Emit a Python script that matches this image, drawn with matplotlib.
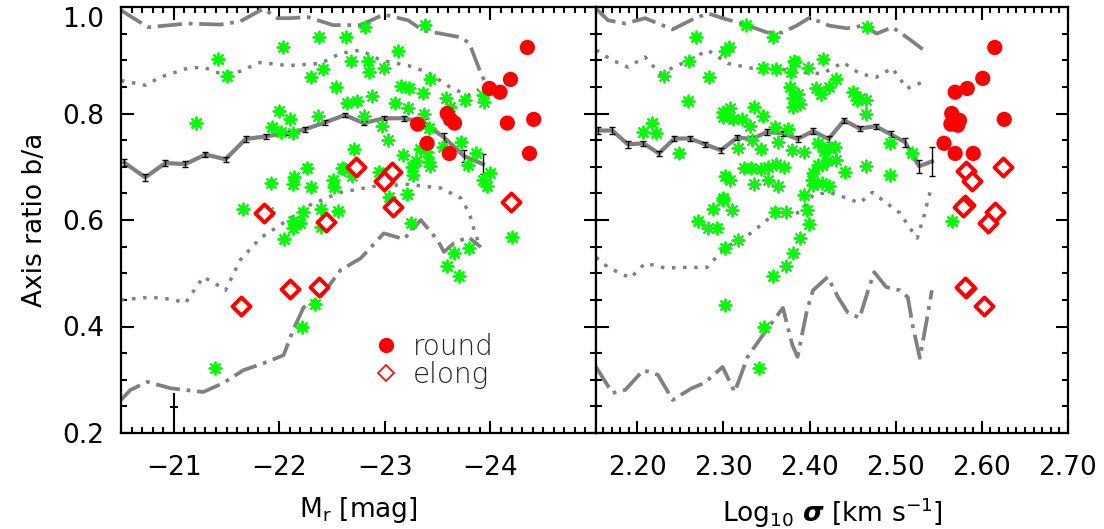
import numpy as np
import matplotlib
matplotlib.use('Agg')
import matplotlib.pyplot as plt
from matplotlib.lines import Line2D
from matplotlib.ticker import MultipleLocator, FormatStrFormatter

plt.rcParams['font.family'] = ['DejaVu Sans']
plt.rcParams['mathtext.fontset'] = 'dejavusans'

# ---------------- left panel: M_r ----------------
mr_med_x = [-20.53, -20.73, -20.92, -21.11, -21.30, -21.49, -21.68, -21.87, -22.06, -22.24,
            -22.43, -22.62, -22.80, -22.99, -23.18, -23.37, -23.56, -23.75, -23.93]
mr_med_y = [0.708, 0.680, 0.707, 0.705, 0.723, 0.714, 0.752, 0.757, 0.763, 0.770,
            0.783, 0.797, 0.782, 0.791, 0.791, 0.783, 0.755, 0.720, 0.705]
mr_med_err = [0.006, 0.006, 0.006, 0.005, 0.005, 0.005, 0.005, 0.004, 0.004, 0.004,
              0.004, 0.004, 0.004, 0.004, 0.005, 0.006, 0.008, 0.012, 0.019]

mr_hi2_x = [-20.5, -20.61, -20.76, -21.13, -21.44, -21.63, -21.85, -21.98, -22.10, -22.27,
            -22.51, -22.77, -22.99, -23.22, -23.36, -23.53, -23.72, -23.80, -23.91, -23.98]
mr_hi2_y = [0.994, 0.980, 0.962, 0.969, 0.967, 0.973, 0.997, 0.979, 0.979, 0.981,
            0.966, 0.966, 0.986, 0.975, 0.956, 0.950, 0.943, 0.932, 0.875, 0.847]

mr_hi1_x = [-20.5, -20.73, -20.87, -21.13, -21.28, -21.44, -21.60, -21.82, -22.08, -22.39,
            -22.58, -22.77, -22.96, -23.22, -23.41, -23.62, -23.79, -23.89]
mr_hi1_y = [0.862, 0.853, 0.868, 0.885, 0.887, 0.875, 0.877, 0.896, 0.890, 0.894,
            0.913, 0.919, 0.900, 0.890, 0.877, 0.849, 0.834, 0.845]

mr_lo1_x = [-20.5, -20.78, -20.99, -21.11, -21.28, -21.39, -21.49, -21.63, -21.82, -22.08,
            -22.29, -22.58, -22.89, -23.22, -23.53, -23.72, -23.80, -23.84, -23.89]
mr_lo1_y = [0.450, 0.455, 0.451, 0.444, 0.493, 0.481, 0.468, 0.525, 0.566, 0.600,
            0.628, 0.652, 0.663, 0.667, 0.660, 0.641, 0.613, 0.585, 0.556]

mr_lo2_x = [-20.5, -20.59, -20.75, -20.97, -21.28, -21.47, -21.66, -21.85, -22.04, -22.13,
            -22.23, -22.39, -22.58, -22.77, -22.99, -23.18, -23.34, -23.50, -23.56, -23.65,
            -23.79, -23.91]
mr_lo2_y = [0.262, 0.281, 0.296, 0.284, 0.277, 0.294, 0.318, 0.331, 0.346, 0.393,
            0.436, 0.455, 0.506, 0.528, 0.575, 0.564, 0.600, 0.562, 0.540, 0.556,
            0.568, 0.549]

mr_green_x = [-22.38, -22.63, -22.03, -21.42, -22.68, -22.41, -22.30, -21.50, -22.54, -22.64,
              -22.74, -22.00, -22.10, -22.37, -21.21, -21.93, -22.02, -22.13, -22.71, -22.26,
              -22.59, -22.69, -22.14, -22.13, -21.92, -22.30, -22.51, -22.52, -21.66, -21.89,
              -22.22, -22.39, -22.56, -22.13, -22.20, -22.13, -22.39, -22.04, -22.34, -22.21,
              -21.39, -23.38, -22.81, -23.12, -22.84, -22.85, -22.99, -23.43, -23.15, -23.23,
              -23.36, -22.88, -23.58, -23.76, -23.93, -23.94, -23.10, -23.22, -23.62, -23.37,
              -22.80, -22.97, -23.42, -23.03, -23.33, -23.55, -23.72, -23.17, -23.40, -23.86,
              -23.29, -23.42, -23.79, -22.61, -23.26, -23.43, -22.94, -23.27, -24.00, -23.93,
              -23.97, -23.04, -23.21, -23.25, -24.20, -23.65, -23.80, -23.59, -23.70]
mr_green_y = [0.943, 0.943, 0.924, 0.902, 0.898, 0.883, 0.868, 0.870, 0.849, 0.819,
              0.823, 0.804, 0.789, 0.795, 0.782, 0.774, 0.765, 0.763, 0.733, 0.697,
              0.697, 0.682, 0.680, 0.667, 0.669, 0.662, 0.675, 0.662, 0.620, 0.615,
              0.615, 0.620, 0.617, 0.598, 0.594, 0.585, 0.586, 0.564, 0.442, 0.399,
              0.322, 0.967, 0.962, 0.917, 0.898, 0.877, 0.885, 0.864, 0.851, 0.847,
              0.838, 0.832, 0.830, 0.825, 0.834, 0.821, 0.819, 0.810, 0.812, 0.800,
              0.795, 0.776, 0.772, 0.750, 0.733, 0.737, 0.746, 0.723, 0.727, 0.725,
              0.710, 0.708, 0.703, 0.695, 0.699, 0.701, 0.690, 0.684, 0.688, 0.675,
              0.663, 0.643, 0.648, 0.594, 0.568, 0.538, 0.547, 0.513, 0.495]

mr_round_x = [-24.35, -24.19, -23.99, -24.09, -23.59, -23.62, -23.66, -23.31, -24.16, -24.41,
              -23.40, -23.61, -24.37]
mr_round_y = [0.924, 0.864, 0.847, 0.840, 0.800, 0.789, 0.782, 0.780, 0.782, 0.789,
              0.744, 0.725, 0.725]

mr_elong_x = [-22.73, -23.07, -22.99, -23.08, -24.19, -21.85, -22.44, -21.64, -22.10, -22.38]
mr_elong_y = [0.699, 0.690, 0.673, 0.624, 0.633, 0.613, 0.596, 0.438, 0.470, 0.474]

# typical error (cross in lower left)
err_x, err_y, err_yerr, err_xerr = -21.0, 0.249, 0.027, 0.04

# ---------------- right panel: log sigma ----------------
sg_med_x = [2.154, 2.171, 2.189, 2.207, 2.225, 2.243, 2.261, 2.279, 2.297, 2.316, 2.333, 2.350,
            2.369, 2.386, 2.404, 2.422, 2.440, 2.458, 2.477, 2.494, 2.511, 2.527, 2.542]
sg_med_y = [0.768, 0.768, 0.742, 0.744, 0.725, 0.753, 0.753, 0.742, 0.731, 0.755, 0.752, 0.765,
            0.763, 0.752, 0.767, 0.752, 0.787, 0.772, 0.776, 0.761, 0.746, 0.701, 0.710]
sg_med_err = [0.006, 0.006, 0.006, 0.005, 0.005, 0.005, 0.005, 0.005, 0.005, 0.005, 0.005, 0.005,
              0.005, 0.005, 0.005, 0.005, 0.005, 0.005, 0.005, 0.006, 0.008, 0.012, 0.027]

sg_hi2_x = [2.152, 2.166, 2.186, 2.209, 2.241, 2.267, 2.282, 2.299, 2.325, 2.351, 2.368, 2.385,
            2.400, 2.423, 2.443, 2.462, 2.478, 2.496, 2.513, 2.536]
sg_hi2_y = [0.997, 0.975, 0.969, 0.979, 0.958, 0.979, 0.988, 0.979, 0.967, 0.952, 0.952, 0.965,
            0.980, 0.965, 0.960, 0.965, 0.950, 0.962, 0.943, 0.915]

sg_hi1_x = [2.152, 2.171, 2.189, 2.209, 2.226, 2.247, 2.267, 2.282, 2.305, 2.333, 2.360, 2.389,
            2.415, 2.439, 2.458, 2.477, 2.496, 2.513, 2.536]
sg_hi1_y = [0.919, 0.900, 0.887, 0.906, 0.875, 0.890, 0.906, 0.919, 0.894, 0.885, 0.885, 0.877,
            0.875, 0.896, 0.875, 0.868, 0.885, 0.847, 0.862]

sg_lo1_x = [2.152, 2.166, 2.192, 2.209, 2.232, 2.255, 2.281, 2.302, 2.321, 2.340, 2.360, 2.377,
            2.389, 2.404, 2.423, 2.443, 2.458, 2.473, 2.489, 2.505, 2.516, 2.525, 2.533, 2.541]
sg_lo1_y = [0.530, 0.511, 0.491, 0.519, 0.510, 0.511, 0.511, 0.549, 0.562, 0.586, 0.613, 0.609,
            0.615, 0.647, 0.652, 0.641, 0.632, 0.652, 0.632, 0.613, 0.586, 0.566, 0.609, 0.660]

sg_lo2_x = [2.152, 2.171, 2.186, 2.207, 2.224, 2.241, 2.263, 2.278, 2.299, 2.313, 2.328, 2.344,
            2.369, 2.380, 2.386, 2.397, 2.404, 2.421, 2.433, 2.444, 2.458, 2.467, 2.475, 2.489,
            2.505, 2.514, 2.520, 2.528, 2.536, 2.542]
sg_lo2_y = [0.324, 0.275, 0.281, 0.318, 0.309, 0.262, 0.284, 0.294, 0.324, 0.277, 0.343, 0.380,
            0.435, 0.365, 0.343, 0.431, 0.468, 0.493, 0.455, 0.427, 0.416, 0.463, 0.502, 0.474,
            0.468, 0.455, 0.399, 0.341, 0.412, 0.468]

sg_green_x = [2.326, 2.268, 2.358, 2.306, 2.302, 2.260, 2.382, 2.346, 2.361, 2.378, 2.231, 2.283,
              2.377, 2.381, 2.259, 2.381, 2.307, 2.299, 2.335, 2.299, 2.346, 2.217, 2.311, 2.321,
              2.331, 2.207, 2.222, 2.375, 2.360, 2.333, 2.363, 2.343, 2.317, 2.379, 2.248, 2.324,
              2.332, 2.343, 2.352, 2.361, 2.370, 2.302, 2.307, 2.352, 2.335, 2.363, 2.300, 2.288,
              2.310, 2.360, 2.373, 2.270, 2.299, 2.282, 2.292, 2.302, 2.317, 2.381, 2.357, 2.373,
              2.302, 2.347, 2.341, 2.467, 2.383, 2.415, 2.398, 2.431, 2.408, 2.423, 2.387, 2.413,
              2.450, 2.458, 2.466, 2.389, 2.455, 2.466, 2.410, 2.493, 2.394, 2.417, 2.423, 2.430,
              2.519, 2.420, 2.431, 2.410, 2.414, 2.466, 2.441, 2.404, 2.493, 2.403, 2.404, 2.414,
              2.423, 2.394, 2.397, 2.399, 2.389, 2.565]
sg_green_y = [0.967, 0.943, 0.943, 0.924, 0.917, 0.898, 0.898, 0.885, 0.883, 0.877, 0.870, 0.868,
              0.849, 0.830, 0.823, 0.813, 0.810, 0.802, 0.812, 0.793, 0.795, 0.782, 0.789, 0.789,
              0.776, 0.765, 0.763, 0.770, 0.774, 0.750, 0.746, 0.733, 0.735, 0.731, 0.725, 0.697,
              0.697, 0.695, 0.699, 0.705, 0.699, 0.682, 0.675, 0.675, 0.667, 0.663, 0.641, 0.620,
              0.618, 0.615, 0.615, 0.598, 0.637, 0.585, 0.585, 0.547, 0.562, 0.538, 0.495, 0.513,
              0.440, 0.399, 0.322, 0.962, 0.896, 0.902, 0.885, 0.864, 0.847, 0.849, 0.836, 0.836,
              0.840, 0.830, 0.825, 0.817, 0.825, 0.800, 0.744, 0.744, 0.727, 0.729, 0.735, 0.737,
              0.725, 0.710, 0.712, 0.703, 0.703, 0.701, 0.690, 0.688, 0.684, 0.675, 0.665, 0.669,
              0.663, 0.647, 0.618, 0.592, 0.566, 0.598]

sg_round_x = [2.615, 2.601, 2.583, 2.569, 2.626, 2.565, 2.574, 2.564, 2.572, 2.556, 2.569, 2.590]
sg_round_y = [0.924, 0.866, 0.847, 0.840, 0.789, 0.800, 0.787, 0.780, 0.778, 0.744, 0.725, 0.725]

sg_elong_x = [2.582, 2.588, 2.625, 2.580, 2.578, 2.615, 2.607, 2.582, 2.580, 2.602]
sg_elong_y = [0.692, 0.673, 0.699, 0.628, 0.624, 0.615, 0.594, 0.472, 0.474, 0.438]

y_ticks = [0.2, 0.4, 0.6, 0.8, 1.0]
mr_ticks = [-21, -22, -23, -24]
sg_ticks = [2.2, 2.3, 2.4, 2.5, 2.6, 2.7]

# ---------------- styles ----------------
GRAY = '#808080'
GREEN = '#00ff00'
RED = '#ff0000'
DASHDOT = (0, (6.5, 1.8, 1.0, 1.8))
DOTTED = (0, (1.0, 2.2))
TICK_FS = 19
LABEL_FS = 19

fig = plt.figure(figsize=(11.04, 5.29), dpi=100)
ax1 = fig.add_axes([121 / 1104, 96 / 529, 475 / 1104, 426 / 529])
ax2 = fig.add_axes([596 / 1104, 96 / 529, 472 / 1104, 426 / 529])


def draw_panel(ax, mx, my, me, h2x, h2y, h1x, h1y, l1x, l1y, l2x, l2y,
               gx, gy, rx, ry, ex, ey):
    ax.plot(h2x, h2y, color=GRAY, lw=2.7, ls=DASHDOT, dash_capstyle='butt', zorder=2)
    ax.plot(l2x, l2y, color=GRAY, lw=2.7, ls=DASHDOT, dash_capstyle='butt', zorder=2)
    ax.plot(h1x, h1y, color=GRAY, lw=2.5, ls=DOTTED, dash_capstyle='butt', zorder=2)
    ax.plot(l1x, l1y, color=GRAY, lw=2.5, ls=DOTTED, dash_capstyle='butt', zorder=2)
    ax.plot(mx, my, color=GRAY, lw=3.0, solid_joinstyle='round', zorder=2)
    ax.errorbar(mx, my, yerr=me, fmt='none', ecolor='black', elinewidth=1.0,
                capsize=2.5, capthick=1.0, zorder=3)
    ax.scatter(gx, gy, marker=(8, 2, 0), s=75, color=GREEN, linewidths=1.4, zorder=4)
    ax.scatter(rx, ry, marker='o', s=120, color=RED, edgecolors='none', zorder=5)
    ax.scatter(ex, ey, marker='D', s=85, facecolors='white', edgecolors=RED,
               linewidths=2.8, zorder=5)

    ax.set_ylim(0.2, 1.0)
    ax.set_yticks(y_ticks)
    ax.yaxis.set_minor_locator(MultipleLocator(0.05))
    ax.tick_params(which='both', direction='in', top=True, right=True, width=1.5,
                   labelsize=TICK_FS)
    ax.tick_params(axis='x', pad=16)
    ax.tick_params(axis='y', pad=12)
    ax.tick_params(which='major', length=9)
    ax.tick_params(which='minor', length=4.5)
    for sp in ax.spines.values():
        sp.set_linewidth(1.6)


draw_panel(ax1, mr_med_x, mr_med_y, mr_med_err, mr_hi2_x, mr_hi2_y, mr_hi1_x, mr_hi1_y,
           mr_lo1_x, mr_lo1_y, mr_lo2_x, mr_lo2_y, mr_green_x, mr_green_y,
           mr_round_x, mr_round_y, mr_elong_x, mr_elong_y)
draw_panel(ax2, sg_med_x, sg_med_y, sg_med_err, sg_hi2_x, sg_hi2_y, sg_hi1_x, sg_hi1_y,
           sg_lo1_x, sg_lo1_y, sg_lo2_x, sg_lo2_y, sg_green_x, sg_green_y,
           sg_round_x, sg_round_y, sg_elong_x, sg_elong_y)

# typical error bar
ax1.errorbar([err_x], [err_y], yerr=[err_yerr], xerr=[err_xerr], fmt='none',
             ecolor='black', elinewidth=1.5, capsize=0, zorder=3)

ax1.set_xlim(-20.5, -25.0)
ax1.set_xticks(mr_ticks)
ax1.set_xticklabels([f'\u2212{abs(t)}' for t in mr_ticks])
ax1.xaxis.set_minor_locator(MultipleLocator(0.1))
ax1.set_yticklabels([f'{t:.1f}' for t in y_ticks])
# keep the top label inside the figure, as in the original
ax1.yaxis.get_major_ticks()[-1].label1.set_verticalalignment('top')
ax1.set_xlabel(r'M$_\mathrm{r}$ [mag]', fontsize=LABEL_FS, labelpad=10)
ax1.set_ylabel('Axis ratio b/a', fontsize=LABEL_FS, labelpad=10)

ax2.set_xlim(2.152, 2.70)
ax2.set_xticks(sg_ticks)
ax2.set_xticklabels([f'{t:.2f}' for t in sg_ticks])
ax2.xaxis.set_minor_locator(MultipleLocator(0.01))
ax2.tick_params(axis='y', labelleft=False)
ax2.set_xlabel(r'Log$_{10}$ $\boldsymbol{\sigma}$ [km s$^{-1}$]', fontsize=LABEL_FS, labelpad=10)

# legend
handles = [
    Line2D([], [], ls='none', marker='o', ms=11, color=RED, mec='none', label='round'),
    Line2D([], [], ls='none', marker='D', ms=8, mfc='white', mec=RED, mew=1.2, label='elong'),
]
leg = ax1.legend(handles=handles, loc='upper left', bbox_to_anchor=(0.50, 0.267), frameon=False,
                 prop={'size': 20, 'weight': 'light'}, handletextpad=0.45, labelspacing=0.0,
                 borderpad=0.0, handlelength=1.0)
for t in leg.get_texts():
    t.set_color('#222222')

fig.savefig('out.png', dpi=100)
